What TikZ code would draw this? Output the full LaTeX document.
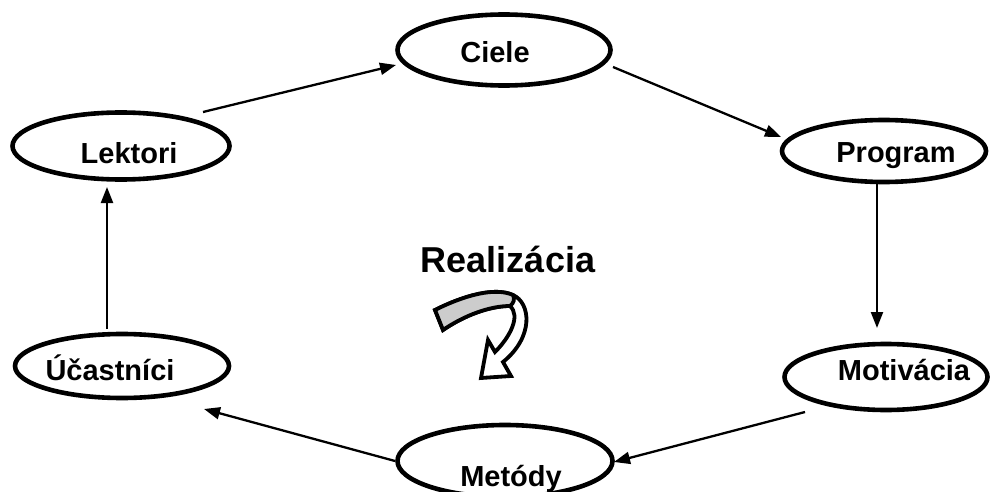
\documentclass[tikz,border=0pt]{standalone}
\usepackage{fontspec}
\setmainfont{Liberation Sans}
\usetikzlibrary{arrows.meta,shapes.geometric}
\begin{document}
\begin{tikzpicture}[x=1pt,y=-1pt,
  stage/.style={ellipse, draw, line width=4.6pt, inner sep=0pt},
  lbl/.style={font=\fontsize{29}{29}\selectfont\bfseries, inner sep=0pt, anchor=base},
  conn/.style={line width=2.3pt, -{Triangle[length=16pt,width=12pt]}},
  blockarrow/.style={line width=3.8pt, line join=miter},
]
\useasboundingbox (0,0) rectangle (991,492);

% the six stages of the cycle
\node[stage, minimum width=213pt, minimum height=71pt] (ciele) at (504,50) {};
\node[stage, minimum width=217pt, minimum height=67pt] (lek)   at (121,146) {};
\node[stage, minimum width=204pt, minimum height=62pt] (prog)  at (884,151) {};
\node[stage, minimum width=203pt, minimum height=66pt] (mot)   at (886,377) {};
\node[stage, minimum width=215pt, minimum height=72pt] (met)   at (505,461) {};
\node[stage, minimum width=214pt, minimum height=64pt] (uc)    at (122,366) {};

\node[lbl] (tciele) at (495,63)  {Ciele};
\node[lbl] (tlek)   at (129,164) {Lektori};
\node[lbl] (tprog)  at (896,163) {Program};
\node[lbl] (tmot)   at (904,380) {Motivácia};
\node[lbl] (tmet)   at (511,486) {Metódy};
\node[lbl] (tuc)    at (110,380) {Účastníci};

\node[font=\fontsize{36}{36}\selectfont\bfseries, inner sep=0pt, anchor=base] (real) at (508,272) {Realizácia};

% connector ends, set a little apart from the ellipses
\coordinate (lekA)   at (203,112);
\coordinate (cieleB) at (396,65);
\coordinate (cieleA) at (613,67);
\coordinate (progB)  at (781,137);
\coordinate (progA)  at (877,184);
\coordinate (motB)   at (877,328);
\coordinate (motA)   at (805,412);
\coordinate (metB)   at (614,462);
\coordinate (metA)   at (395,461);
\coordinate (ucB)    at (204,409);
\coordinate (ucA)    at (107,329);
\coordinate (lekB)   at (107,187);

\draw[conn] (lekA) -- (cieleB);
\draw[conn] (cieleA) -- (progB);
\draw[conn] (progA) -- (motB);
\draw[conn] (motA) -- (metB);
\draw[conn] (metA) -- (ucB);
\draw[conn] (ucA) -- (lekB);

% curved block arrow in the middle
\draw[blockarrow, fill=white]
  (435,310) .. controls (465,295) and (495,287) .. (513,295)
  .. controls (531,303) and (534,337) .. (503,362)
  -- (511,376) -- (481,378) -- (488,340) -- (495,352)
  .. controls (510,337) and (521,316) .. (510,306)
  .. controls (490,306) and (465,315) .. (443,330) -- cycle;
\draw[blockarrow, fill=black!20]
  (435,310) .. controls (465,295) and (495,287) .. (513,295)
  .. controls (515,299) and (514,303) .. (510,306)
  .. controls (490,306) and (465,315) .. (443,330) -- cycle;
\end{tikzpicture}
\end{document}
